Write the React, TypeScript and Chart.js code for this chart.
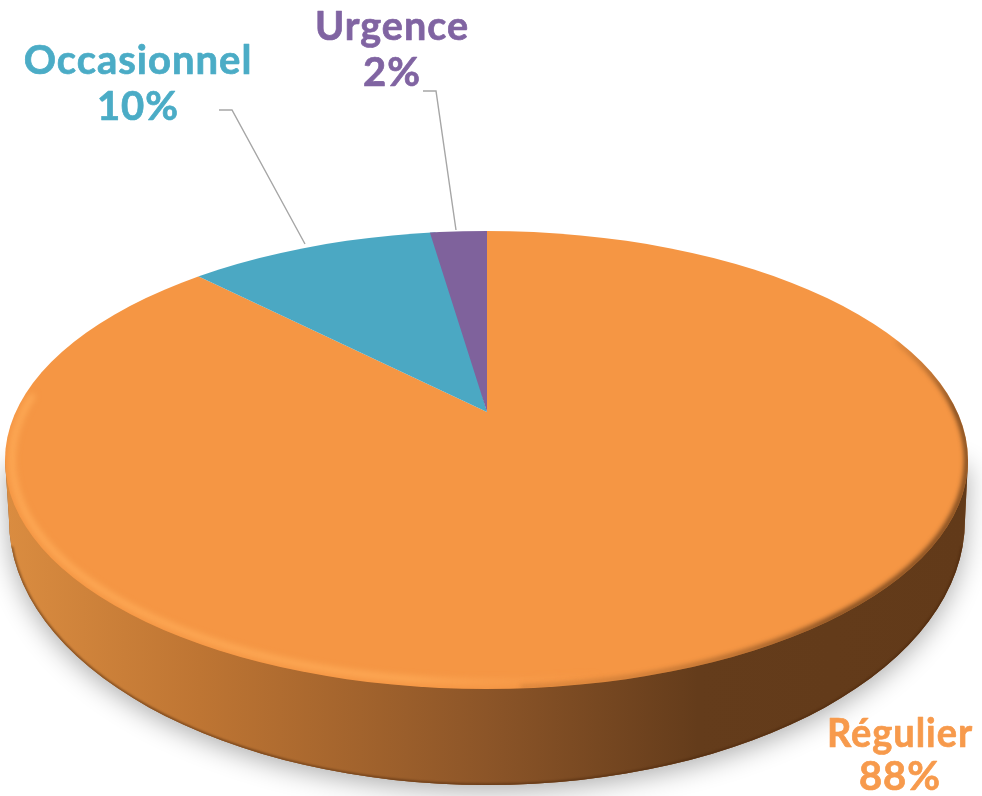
import React, { useEffect, useRef } from "react";
import { Chart, registerables } from "chart.js";

Chart.register(...registerables);

const categories = ["Régulier", "Occasionnel", "Urgence"];
const shares = [88, 10, 2];
const sliceColors = ["#F59644", "#4BA8C3", "#7F629C"];
const labelColors = ["#F79A4C", "#4BACC6", "#8064A2"];

const W = 982;
const H = 796;
const TOP = { cx: 486.5, cy: 460, rx: 481.5, ry: 229 };
const BOTTOM = { cx: 487, cy: 520, rx: 478, ry: 265 };
const APEX = { x: 487, y: 412, sy: 181, over: 1.6 };
const SLICE_SX = [410, 410, 456];
const FONT = '700 40px Lato, "Open Sans", sans-serif';
const LABELS = [
  { x: 900, y1: 747, y2: 790, maxWidth: 146 },
  { x: 138, y1: 74, y2: 120, maxWidth: 230 },
  { x: 392, y1: 40, y2: 86, maxWidth: 154 },
];
const LEADERS = [
  null,
  [[219, 110], [232, 110], [305, 244]],
  [[423, 91], [436, 91], [456, 230]],
];

const topPath = (ctx: CanvasRenderingContext2D) => {
  ctx.beginPath();
  ctx.ellipse(TOP.cx, TOP.cy, TOP.rx, TOP.ry, 0, 0, Math.PI * 2);
  ctx.closePath();
};

const wallPath = (ctx: CanvasRenderingContext2D) => {
  ctx.beginPath();
  ctx.moveTo(TOP.cx - TOP.rx, TOP.cy);
  ctx.lineTo(BOTTOM.cx - BOTTOM.rx, BOTTOM.cy);
  ctx.ellipse(BOTTOM.cx, BOTTOM.cy, BOTTOM.rx, BOTTOM.ry, 0, Math.PI, 0, true);
  ctx.lineTo(TOP.cx + TOP.rx, TOP.cy);
  ctx.closePath();
};

const piePlugin = {
  id: "tiltedPie",
  beforeDatasetsDraw(chart: any) {
    const ctx: CanvasRenderingContext2D = chart.ctx;
    const arcs = chart.getDatasetMeta(0).data;

    // soft ground shadow + side wall
    ctx.save();
    ctx.shadowColor = "rgba(0,0,0,0.32)";
    ctx.shadowBlur = 26;
    ctx.shadowOffsetY = 6;
    wallPath(ctx);
    ctx.fillStyle = "#8C5528";
    ctx.fill();
    ctx.restore();

    const wall = ctx.createLinearGradient(8, 0, 966, 0);
    wall.addColorStop(0, "#DA8C40");
    wall.addColorStop(0.2, "#BE7533");
    wall.addColorStop(0.5, "#8C5528");
    wall.addColorStop(0.72, "#643C1B");
    wall.addColorStop(1, "#623A19");
    wallPath(ctx);
    ctx.fillStyle = wall;
    ctx.fill();

    // dark lower lip of the wall
    ctx.save();
    wallPath(ctx);
    ctx.clip();
    ctx.beginPath();
    ctx.ellipse(BOTTOM.cx, BOTTOM.cy, BOTTOM.rx, BOTTOM.ry, 0, 0.1, Math.PI - 0.1);
    ctx.strokeStyle = "rgba(70,35,10,0.55)";
    ctx.lineWidth = 3;
    ctx.filter = "blur(1px)";
    ctx.stroke();
    ctx.restore();

    // top face: every slice comes from the library's arc elements
    ctx.save();
    topPath(ctx);
    ctx.clip();
    arcs.forEach((arc: any, i: number) => {
      ctx.save();
      const k = APEX.over;
      ctx.translate(APEX.x, APEX.y);
      ctx.scale((SLICE_SX[i] * k) / arc.outerRadius, (APEX.sy * k) / arc.outerRadius);
      ctx.translate(-arc.x, -arc.y);
      arc.draw(ctx);
      ctx.restore();
    });

    // light bevel on the front-left rim
    const light = ctx.createLinearGradient(5, 0, 968, 0);
    light.addColorStop(0, "rgba(255,172,88,0.95)");
    light.addColorStop(0.42, "rgba(255,172,88,0.9)");
    light.addColorStop(0.62, "rgba(255,165,85,0)");
    light.addColorStop(1, "rgba(255,165,85,0)");
    ctx.filter = "blur(3px)";
    ctx.strokeStyle = light;
    ctx.lineWidth = 6;
    ctx.beginPath();
    ctx.ellipse(TOP.cx, TOP.cy, TOP.rx - 7, TOP.ry - 7, 0, 1.0, Math.PI + 0.3);
    ctx.stroke();

    // dark bevel on the front-right rim
    const dark = ctx.createLinearGradient(0, 330, 0, 690);
    dark.addColorStop(0, "rgba(70,40,15,0)");
    dark.addColorStop(0.22, "rgba(70,40,15,0.8)");
    dark.addColorStop(0.8, "rgba(75,42,16,0.8)");
    dark.addColorStop(1, "rgba(85,48,18,0.15)");
    ctx.filter = "blur(2.5px)";
    ctx.strokeStyle = dark;
    ctx.lineWidth = 5;
    ctx.beginPath();
    ctx.ellipse(TOP.cx, TOP.cy, TOP.rx - 1, TOP.ry - 1, 0, -0.55, 1.5);
    ctx.stroke();
    ctx.restore();

    return false;
  },
  afterDraw(chart: any) {
    const ctx: CanvasRenderingContext2D = chart.ctx;
    ctx.save();
    ctx.strokeStyle = "#A6A6A6";
    ctx.lineWidth = 1.4;
    LEADERS.forEach((pts) => {
      if (!pts) return;
      ctx.beginPath();
      pts.forEach(([x, y], i) => (i ? ctx.lineTo(x, y) : ctx.moveTo(x, y)));
      ctx.stroke();
    });
    ctx.font = FONT;
    (ctx as any).letterSpacing = "1px";
    ctx.textAlign = "center";
    ctx.textBaseline = "alphabetic";
    ctx.lineWidth = 0.7;
    ctx.lineJoin = "round";
    categories.forEach((name, i) => {
      ctx.fillStyle = labelColors[i];
      ctx.strokeStyle = labelColors[i];
      [name, `${shares[i]}%`].forEach((t, line) => {
        const y = line ? LABELS[i].y2 : LABELS[i].y1;
        ctx.fillText(t, LABELS[i].x, y, LABELS[i].maxWidth);
        ctx.strokeText(t, LABELS[i].x, y, LABELS[i].maxWidth);
      });
    });
    ctx.restore();
  },
};

export default function App() {
  const ref = useRef<HTMLCanvasElement>(null);
  useEffect(() => {
    const chart = new Chart(ref.current!, {
      type: "pie",
      data: {
        labels: categories,
        datasets: [{ data: shares, backgroundColor: sliceColors, borderWidth: 0 }],
      },
      options: {
        responsive: false,
        animation: false,
        plugins: { legend: { display: false }, tooltip: { enabled: false } },
      },
      plugins: [piePlugin],
    } as any);
    return () => chart.destroy();
  }, []);
  return (
    <div style={{ position: "fixed", left: 0, top: 0, width: W, height: H, background: "#fff" }}>
      <canvas ref={ref} width={W} height={H} style={{ display: "block" }} />
    </div>
  );
}
